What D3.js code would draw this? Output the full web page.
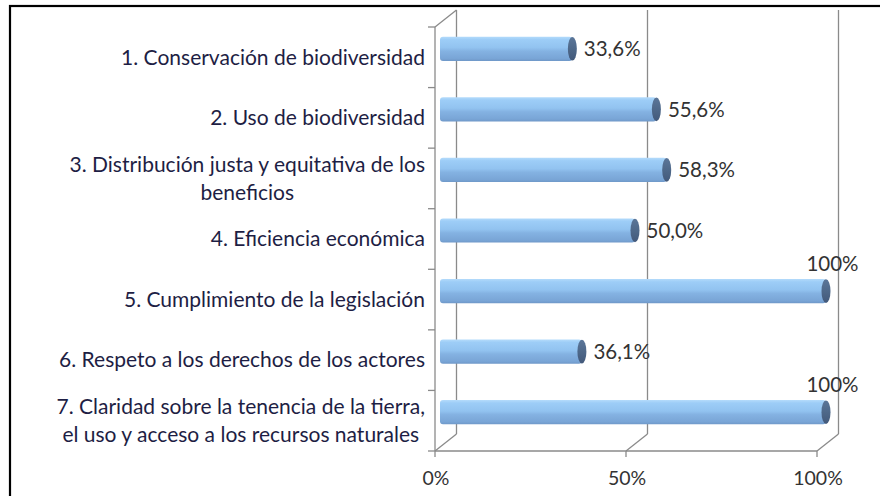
<!DOCTYPE html>
<html><head><meta charset="utf-8">
<script src="https://cdn.jsdelivr.net/npm/d3@7"></script>
<style>
html,body{margin:0;padding:0;background:#fff;}
svg{display:block;}
text{font-family:Lato,"Open Sans",sans-serif;}
</style></head>
<body>
<svg id="chart" width="880" height="496"></svg>
<script>
const categories = [
  "1. Conservación de biodiversidad",
  "2. Uso de biodiversidad",
  "3. Distribución justa y equitativa de los\nbeneficios",
  "4. Eficiencia económica",
  "5. Cumplimiento de la legislación",
  "6. Respeto a los derechos de los actores",
  "7. Claridad sobre la tenencia de la tierra,\nel uso y acceso a los recursos naturales"
];
const values = [0.336, 0.556, 0.583, 0.500, 1.000, 0.361, 1.000];
const valueLabels = ["33,6%", "55,6%", "58,3%", "50,0%", "100%", "36,1%", "100%"];
const tickValues = [0, 0.5, 1];
const tickLabels = ["0%", "50%", "100%"];

const svg = d3.select("#chart");
const W = 880, H = 496;
const depthX = 21.5, depthY = -17;
const gridColor = "#8a8a8a";

// outer frame
svg.append("rect").attr("x", 10).attr("y", 6).attr("width", W + 10).attr("height", H + 10)
  .attr("fill", "none").attr("stroke", "#000").attr("stroke-width", 2.2);

const x = d3.scaleLinear().domain([0, 1]).range([435, 817]);
const xBar = d3.scaleLinear().domain([0, 1]).range([444, 826]);
const y = d3.scaleBand().domain(categories).range([27, 451]).padding(0);
const bh = y.bandwidth();

const defs = svg.append("defs");
const grad = defs.append("linearGradient").attr("id", "barGrad")
  .attr("x1", 0).attr("y1", 0).attr("x2", 0).attr("y2", 1);
[[0, "#b4dbfb"], [0.12, "#9dcdf7"], [0.45, "#92c3f0"], [0.6, "#84b2e2"], [0.9, "#79a5d6"], [1, "#6f98c8"]]
  .forEach(([o, c]) => grad.append("stop").attr("offset", o).attr("stop-color", c));
const capGrad = defs.append("linearGradient").attr("id", "capGrad")
  .attr("x1", 0).attr("y1", 0).attr("x2", 0).attr("y2", 1);
[[0, "#5b7699"], [0.5, "#4e6889"], [1, "#43597a"]]
  .forEach(([o, c]) => capGrad.append("stop").attr("offset", o).attr("stop-color", c));

const g = svg.append("g");

// back wall vertical gridlines
g.selectAll("line.grid").data(tickValues).join("line")
  .attr("x1", d => x(d) + depthX).attr("x2", d => x(d) + depthX)
  .attr("y1", y.range()[0] + depthY).attr("y2", y.range()[1] + depthY)
  .attr("stroke", gridColor).attr("stroke-width", 1.3);
// floor diagonals
g.selectAll("line.floor").data(tickValues).join("line")
  .attr("x1", d => x(d)).attr("x2", d => x(d) + depthX)
  .attr("y1", y.range()[1]).attr("y2", y.range()[1] + depthY)
  .attr("stroke", gridColor).attr("stroke-width", 1.3);
// top-left wall diagonal
g.append("line").attr("x1", x(0)).attr("y1", y.range()[0])
  .attr("x2", x(0) + depthX).attr("y2", y.range()[0] + depthY)
  .attr("stroke", gridColor).attr("stroke-width", 1.3);

// left axis (front)
g.append("line").attr("x1", x(0)).attr("x2", x(0))
  .attr("y1", y.range()[0]).attr("y2", y.range()[1])
  .attr("stroke", gridColor).attr("stroke-width", 1.3);
const bounds = categories.map(c => y(c)).concat([y.range()[1]]);
g.selectAll("line.ytick").data(bounds).join("line")
  .attr("x1", x(0) - 7).attr("x2", x(0)).attr("y1", d => d).attr("y2", d => d)
  .attr("stroke", gridColor).attr("stroke-width", 1.3);

// bottom axis (front)
g.append("line").attr("x1", x(0)).attr("x2", x(1))
  .attr("y1", y.range()[1]).attr("y2", y.range()[1])
  .attr("stroke", gridColor).attr("stroke-width", 1.3);
g.selectAll("line.xtick").data(tickValues).join("line")
  .attr("x1", d => x(d)).attr("x2", d => x(d))
  .attr("y1", y.range()[1]).attr("y2", y.range()[1] + 6)
  .attr("stroke", gridColor).attr("stroke-width", 1.3);
g.selectAll("text.xlab").data(tickValues).join("text")
  .attr("x", d => x(d) + 1).attr("y", y.range()[1] + 34)
  .attr("text-anchor", "middle").attr("font-size", 19.5).attr("fill", "#333")
  .text((d, i) => tickLabels[i]);

// bars
const barH = bh * 0.4;
const barCY = c => y(c) + bh / 2 + depthY / 2;
const bars = g.selectAll("g.bar").data(categories.map((c, i) => ({c, v: values[i], lab: valueLabels[i]}))).join("g");
bars.append("rect")
  .attr("x", xBar(0) - 4).attr("y", d => barCY(d.c) - barH / 2)
  .attr("width", d => xBar(d.v) - xBar(0) + 4).attr("height", barH)
  .attr("rx", 3).attr("fill", "url(#barGrad)");
bars.append("ellipse")
  .attr("cx", d => xBar(d.v)).attr("cy", d => barCY(d.c))
  .attr("rx", 4.5).attr("ry", barH / 2 - 0.3)
  .attr("fill", "url(#capGrad)");

// value labels
bars.append("text").attr("font-size", 20.5).attr("fill", "#333")
  .text(d => d.lab)
  .each(function(d) {
    const t = d3.select(this);
    const w = this.getComputedTextLength();
    const endX = xBar(d.v) + 4.5;
    if (endX + 7 + w > W - 12) {
      t.attr("x", endX + 2).attr("y", barCY(d.c) - 27).attr("text-anchor", "middle").attr("dy", "0.35em");
    } else {
      t.attr("x", endX + 7).attr("y", barCY(d.c)).attr("text-anchor", "start").attr("dy", "0.35em");
    }
  });

// category labels
const lineH = 28;
const labelRight = 425;
categories.forEach(c => {
  const lines = c.split("\n");
  const cy = y(c) + bh / 2;
  const t = g.append("text").attr("font-size", 21).attr("fill", "#1e1e44");
  if (lines.length === 1) {
    t.attr("x", labelRight).attr("y", cy).attr("dy", "0.35em").attr("text-anchor", "end").text(lines[0]);
  } else {
    const spans = lines.map((l, k) => t.append("tspan").text(l));
    const maxW = d3.max(spans, s => s.node().getComputedTextLength());
    const cx = labelRight - maxW / 2;
    t.attr("text-anchor", "middle");
    spans.forEach((s, k) => s.attr("x", cx).attr("y", cy + (k - (lines.length - 1) / 2) * lineH).attr("dy", "0.35em"));
  }
});
</script>
</body></html>
